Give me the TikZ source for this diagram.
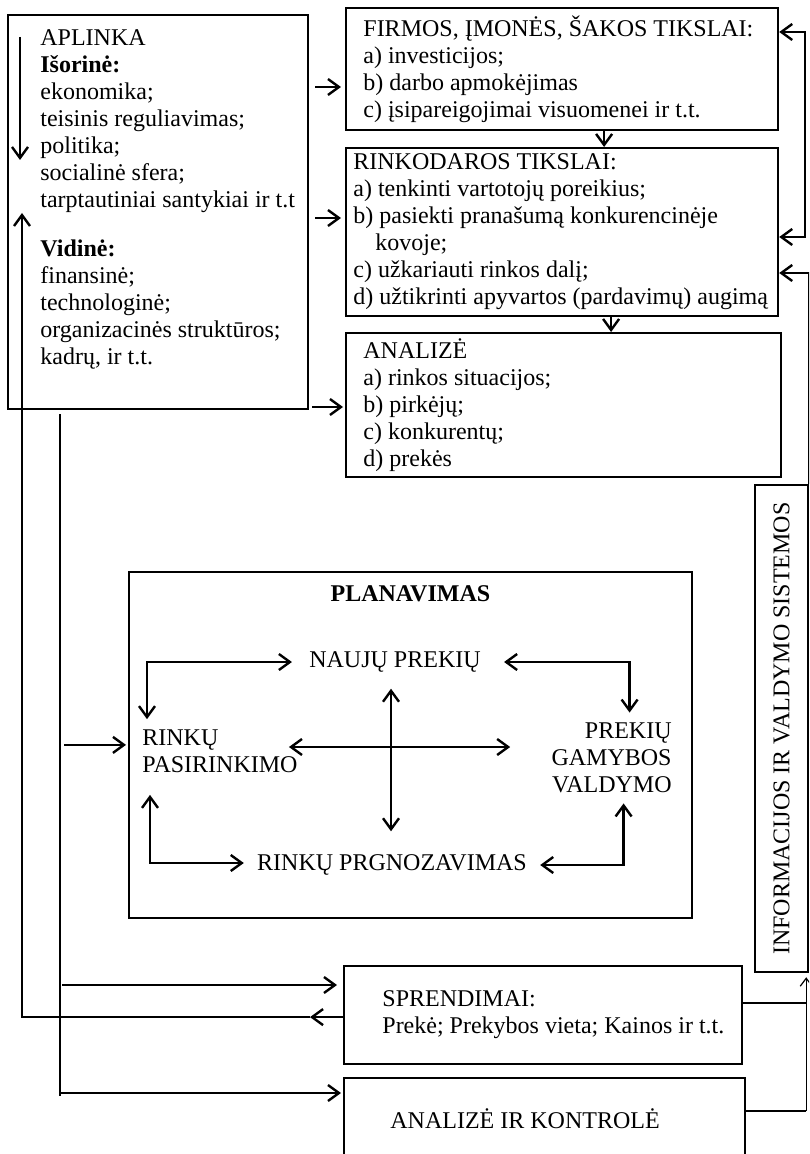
\documentclass[tikz,border=0pt]{standalone}
\usepackage{fontspec}
\setmainfont{Liberation Serif}
\usetikzlibrary{arrows.meta, positioning, calc}
\tikzset{
    box/.style={draw, line width=1.1pt, rectangle, inner sep=0pt, anchor=north west},
    txt/.style={inner sep=0pt, align=left, font=\fontsize{12pt}{13.5pt}\selectfont},
    link/.style={line width=1.2pt},
    arr/.style={link, -{Straight Barb[length=5.5pt, width=8pt]}},
    biarr/.style={link, {Straight Barb[length=5.5pt, width=8pt]}-{Straight Barb[length=5.5pt, width=8pt]}},
    thinline/.style={line width=0.6pt},
    thinarr/.style={thinline, -{Straight Barb[length=4pt, width=6pt]}},
}

\begin{document}
\begin{tikzpicture}[x=0.5pt, y=-0.5pt]
    \useasboundingbox (0,0) rectangle (809,1154);
    \clip (0,0) rectangle (809,1154);

    % boxes
    \node[box, minimum width=150pt, minimum height=197pt] (apl) at (7,14) {};
    \node[box, minimum width=216pt, minimum height=61pt] (firm) at (345,7) {};
    \node[box, minimum width=216pt, minimum height=84pt] (rink) at (345,147) {};
    \node[box, minimum width=217.5pt, minimum height=72pt] (anal) at (345,332) {};
    \node[box, line width=0.9pt, minimum width=281.5pt, minimum height=173pt] (plan) at (128,571) {};
    \node[box, minimum width=199pt, minimum height=49pt] (spr) at (343,965) {};
    \node[box, minimum width=200.5pt, minimum height=41pt] (ak) at (343,1077) {};
    \node[box, minimum width=26.5pt, minimum height=243.5pt] (info) at (754,484) {};

    % texts
    \node[txt, below right=7.5pt and 16.5pt of apl.north west] (apl-t) {APLINKA\\
      \textbf{Išorinė:}\\ ekonomika;\\ teisinis reguliavimas;\\ politika;\\
      socialinė sfera;\\ tarptautiniai santykiai ir t.t\\[11pt]
      \textbf{Vidinė:}\\ finansinė;\\ technologinė;\\ organizacinės struktūros;\\ kadrų, ir t.t.};
    \node[txt, right=9pt of firm.west] (firm-t) {FIRMOS, ĮMONĖS, ŠAKOS TIKSLAI:\\
      a) investicijos;\\ b) darbo apmokėjimas\\ c) įsipareigojimai visuomenei ir t.t.};
    \node[txt, right=4pt of rink.west] (rink-t) {RINKODAROS TIKSLAI:\\
      a) tenkinti vartotojų poreikius;\\ b) pasiekti pranašumą konkurencinėje\\
      \hspace*{11pt}kovoje;\\ c) užkariauti rinkos dalį;\\
      d) užtikrinti apyvartos (pardavimų) augimą};
    \node[txt, right=9pt of anal.west] (anal-t) {ANALIZĖ\\ a) rinkos situacijos;\\
      b) pirkėjų;\\ c) konkurentų;\\ d) prekės};
    \node[txt, right=19.5pt of spr.west] (spr-t) {SPRENDIMAI:\\ Prekė; Prekybos vieta; Kainos ir t.t.};
    \node[txt, right=23.5pt of ak.west] (ak-t) {ANALIZĖ IR KONTROLĖ};
    \node[txt, rotate=90] (info-t) at (info.center) {INFORMACIJOS IR VALDYMO SISTEMOS};

    % planning
    \node[txt, below=7pt of plan.north] (plan-t) {\textbf{PLANAVIMAS}};
    \node[txt] (naujas) at (395,662) {NAUJŲ PREKIŲ};
    \node[txt, anchor=west] (rinkpas) at (142,751) {RINKŲ\\ PASIRINKIMO};
    \node[txt, anchor=east, align=right] (prekgam) at (672,758) {PREKIŲ\\ GAMYBOS\\ VALDYMO};
    \node[txt] (rinkprog) at (392,865) {RINKŲ PRGNOZAVIMAS};

    \draw[biarr] ($(rinkpas.north west)+(5,-10)$) |- ($(naujas.west)+(-17,0)$);
    \draw[biarr] ($(naujas.east)+(23,0)$) -| ($(prekgam.north)+(18,-10)$);
    \draw[biarr] ($(rinkpas.east)+(-9,-4)$) coordinate (h1) -- ($(prekgam.west |- h1)+(-41,0)$);
    \draw[biarr] ($(naujas.south)+(-4,16)$) coordinate (v1) -- ($(v1 |- rinkprog.north)+(0,-23)$);
    \draw[biarr] ($(rinkpas.south west)+(8,22)$) |- ($(rinkprog.west)+(-13,-2)$);
    \draw[biarr] ($(rinkprog.east)+(13,0)$) -| ($(prekgam.south)+(12,10)$);

    % from APLINKA to the goals
    \coordinate (firm-in) at ($(firm.north west)+(0,80)$);
    \coordinate (rink-in) at ($(rink.north west)+(0,71)$);
    \coordinate (anal-in) at ($(anal.north west)+(0,75)$);
    \draw[arr, shorten >=2pt] ($(apl.east |- firm-in)+(6,0)$) -- (firm-in);
    \draw[arr, shorten >=2pt] ($(apl.east |- rink-in)+(6,0)$) -- (rink-in);
    \draw[arr, shorten >=1pt] ($(apl.east |- anal-in)+(3,0)$) -- (anal-in);
    \draw[arr] ($(firm.south)+(42,0)$) coordinate (fr) -- (fr |- rink.north);
    \draw[arr] ($(rink.south)+(49,0)$) coordinate (ra) -- (ra |- anal.north);

    % right-hand loops
    \coordinate (firm-back) at ($(firm.north east)+(0,25)$);
    \coordinate (rink-back) at ($(rink.north east)+(0,90)$);
    \coordinate (rink-info) at ($(rink.north east)+(0,126)$);
    \draw[biarr] (firm-back) -- ++(26,0) |- (rink-back);
    \draw[arr] (info.north east) |- (rink-info);

    % trunk on the left
    \coordinate (trunk) at ($(apl.south west)+(53,4)$);
    \coordinate (spr-in) at ($(spr.north west)+(0,20)$);
    \coordinate (ak-in) at ($(ak.north west)+(0,16)$);
    \draw[link] (trunk) -- ($(trunk |- ak-in)+(0,3)$);
    \draw[arr, shorten >=1pt] ($(trunk |- plan.west)+(4,0)$) -- (plan.west);
    \draw[arr, shorten >=3pt] ($(trunk |- spr-in)+(2,0)$) -- (spr-in);
    \draw[arr, shorten >=1pt] (trunk |- ak-in) -- (ak-in);

    % back from SPRENDIMAI to APLINKA
    \coordinate (back) at ($(spr.west)+(-33,2)$);
    \coordinate (apl-up) at ($(apl.north west)+(15,199)$);
    \draw[arr] ($(spr.west)+(0,2)$) -- (back);
    \draw[arr] (back) -| (apl-up);
    \draw[arr] ($(apl.north west)+(13,23)$) -- ($(apl.north west)+(13,146)$);

    % feedback to INFO
    \coordinate (spr-out) at ($(spr.north east)+(0,38)$);
    \coordinate (ak-out) at ($(ak.north east)+(0,34)$);
    \coordinate (info-fb) at ($(info.south east)+(-3,0)$);
    \draw[thinline] (spr-out) -- (spr-out -| info-fb);
    \draw[thinline] (ak-out) -- (ak-out -| info-fb);
    \draw[thinarr, shorten >=2pt] (ak-out -| info-fb) -- (info-fb);
\end{tikzpicture}
\end{document}
